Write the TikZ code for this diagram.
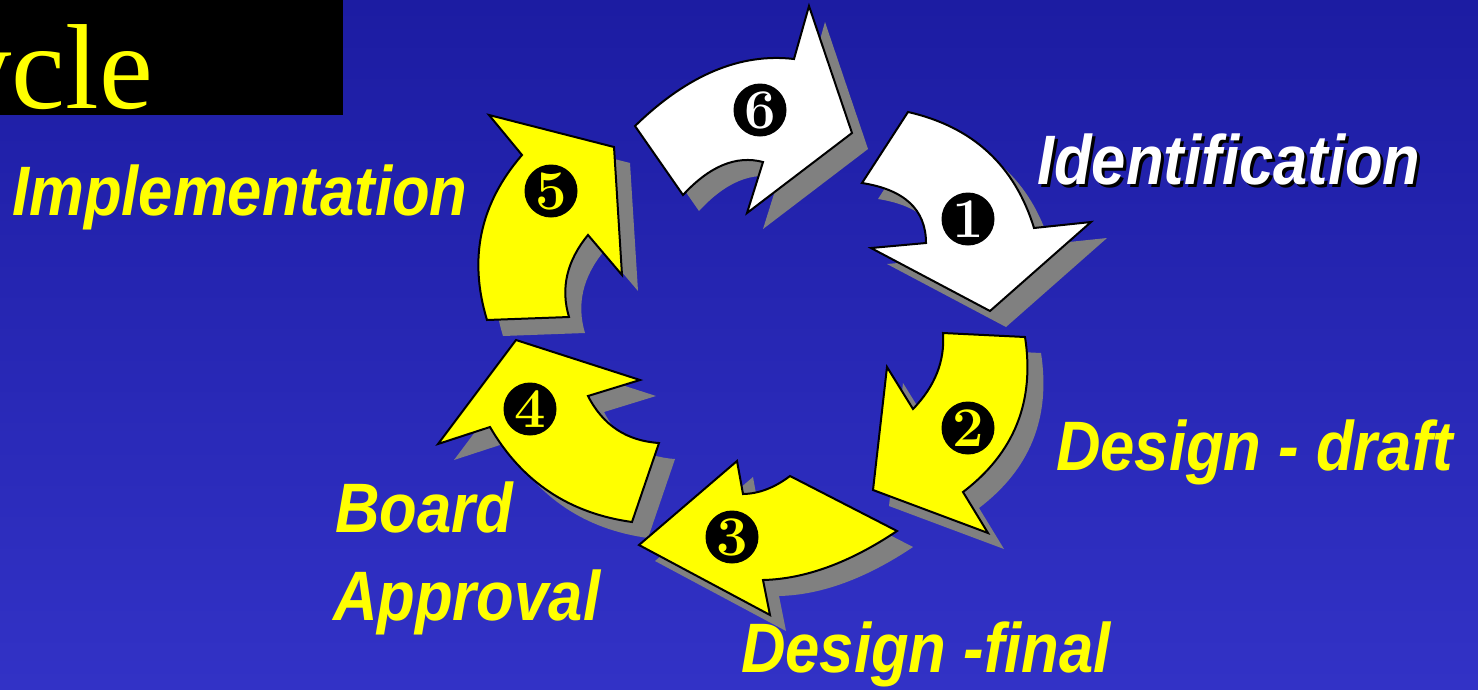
\documentclass[tikz,border=0pt]{standalone}
\usepackage{fontspec}
\newfontfamily\lblfont[FakeStretch=0.88]{Liberation Sans}
\newfontfamily\ttlfont{Liberation Serif}
\newcommand\numfont{\fontsize{56}{56}\selectfont\bfseries}
\definecolor{bgtop}{RGB}{28,28,162}
\definecolor{bgbot}{RGB}{50,50,198}
\definecolor{arrowyellow}{RGB}{255,255,0}
\definecolor{shadowgray}{RGB}{128,128,128}
\tikzset{
  shadowfill/.style={fill=shadowgray, draw=none, shift={(16,16)}},
  yarrow/.style={fill=arrowyellow, draw=black, line width=2, line join=miter},
  warrow/.style={fill=white, draw=black, line width=2, line join=miter},
  numbox/.style={circle, fill=black, minimum size=53, inner sep=0, font=\numfont},
  lbl/.style={anchor=base west, inner sep=0, font=\lblfont\bfseries\itshape\fontsize{70}{84}\selectfont, text=arrowyellow},
}
\newcommand\ArrowOne[1]{\path[#1] (908,112) .. controls (972.7,126.7) and (1014.7,165.3) .. (1034,228) -- (1091,222) -- (990,311) -- (871,248) -- (926,243) .. controls (926,209.7) and (904.7,189.7) .. (862,183) -- cycle;}
\newcommand\ArrowTwo[1]{\path[#1] (1025,337) .. controls (1035,401.3) and (1014.3,453) .. (963,492) -- (988,533) -- (873,490) -- (887,367) -- (913,409) .. controls (935,386.3) and (945,361) .. (943,333) -- cycle;}
\newcommand\ArrowThree[1]{\path[#1] (897,531) .. controls (849.7,562.7) and (805,579) .. (763,580) -- (770,615) -- (639,545) -- (737,461) -- (743,494) .. controls (758.9,493.7) and (774.6,487.7) .. (790,476) -- cycle;}
\newcommand\ArrowFour[1]{\path[#1] (632,522) .. controls (569,513.3) and (521.7,481.6) .. (490,427) -- (438,444) -- (516,340) -- (640,380) -- (588,396) .. controls (603,425.3) and (626.7,440.9) .. (659,443) -- cycle;}
\newcommand\ArrowFive[1]{\path[#1] (487,320) .. controls (468.3,258.6) and (479.9,203.6) .. (522,155) -- (489,115) -- (614,147) -- (622,275) -- (588,235) .. controls (566.7,261) and (560.4,288.3) .. (569,317) -- cycle;}
\newcommand\ArrowSix[1]{\path[#1] (635,126) .. controls (687.3,75) and (740.3,52.7) .. (794,59) -- (809,6) -- (852,133) -- (747,213) -- (763,162) .. controls (736.3,155) and (709.7,166) .. (683,195) -- cycle;}
\begin{document}
\begin{tikzpicture}[x=1pt,y=-1pt]
\useasboundingbox (0,0) rectangle (1478,689);
\clip (0,0) rectangle (1478,689);
\shade[top color=bgtop, bottom color=bgbot] (0,0) rectangle (1478,689);
% title box
\fill[black] (0,0) rectangle (343,115);
\node[anchor=base west, inner sep=0, text=arrowyellow, font=\ttlfont\fontsize{121}{121}\selectfont] (title) at (-49,108) {ycle};
% shadows
\ArrowOne{shadowfill}
\ArrowTwo{shadowfill}
\ArrowThree{shadowfill}
\ArrowFour{shadowfill}
\ArrowFive{shadowfill}
\ArrowSix{shadowfill}
% arrows
\ArrowOne{warrow}
\ArrowTwo{yarrow}
\ArrowThree{yarrow}
\ArrowFour{yarrow}
\ArrowFive{yarrow}
\ArrowSix{warrow}
% numbers
\node[numbox, text=white] (n1) at (968,219) {1};
\node[numbox, text=arrowyellow] (n2) at (968,428) {2};
\node[numbox, text=arrowyellow] (n3) at (732,537) {3};
\node[numbox, text=arrowyellow] (n4) at (530,409) {4};
\node[numbox, text=arrowyellow] (n5) at (551,191) {5};
\node[numbox, text=white] (n6) at (760,110) {6};
% labels
\node[lbl, text=black] (idshadow) at (1040,187) {Identification};
\node[lbl, text=white] (ident) at (1037,184) {Identification};
\node[lbl] (draft) at (1056,470) {Design - draft};
\node[lbl] (final) at (741,672) {Design -final};
\node[lbl] (board) at (335,532) {Board};
\node[lbl] (approval) at (333,620) {Approval};
\node[lbl] (impl) at (12,215) {Implementation};
\end{tikzpicture}
\end{document}
